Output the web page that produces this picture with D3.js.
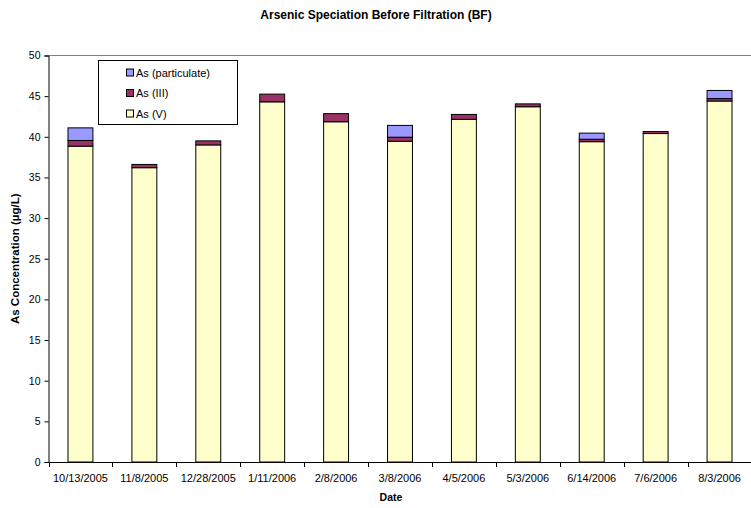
<!DOCTYPE html>
<html><head><meta charset="utf-8">
<script src="https://cdnjs.cloudflare.com/ajax/libs/d3/7.8.5/d3.min.js"></script>
<style>body{margin:0;background:#fff}svg{display:block;font-family:"Liberation Sans",Arial,sans-serif}</style>
</head><body><svg id="c" width="751" height="508"></svg>
<script>
const dates = ["10/13/2005","11/8/2005","12/28/2005","1/11/2006","2/8/2006","3/8/2006","4/5/2006","5/3/2006","6/14/2006","7/6/2006","8/3/2006"];
const asV = [38.85,36.2,39.0,44.3,41.85,39.45,42.15,43.7,39.4,40.4,44.4];
const asIII = [0.7,0.4,0.5,0.95,1.0,0.5,0.6,0.35,0.3,0.25,0.3];
const asPart = [1.55,0,0,0,0,1.45,0,0,0.75,0,1.0];
const seriesNames = ["As (V)","As (III)","As (particulate)"];
const colors = ["#FFFFCC","#993366","#9999FF"];
const yTicks = [0,5,10,15,20,25,30,35,40,45,50];

const svg = d3.select("#c");
const L = 48.5, R = 751.5, T = 55.5, B = 462;
const x = d3.scaleBand().domain(dates).range([L,R]).paddingInner(0.61).paddingOuter(0.305);
const xb = d3.scaleBand().domain(dates).range([L,R]);
const y = d3.scaleLinear().domain([0,50]).range([B,T]);

// plot top border
svg.append("line").attr("x1",L).attr("x2",R).attr("y1",T).attr("y2",T).attr("stroke","#808080").attr("stroke-width",1);

const rows = dates.map((d,i)=>({date:d, v:asV[i], iii:asIII[i], p:asPart[i]}));
const stack = d3.stack().keys(["v","iii","p"])(rows);
stack.forEach((s,k)=>{
  svg.append("g").selectAll("rect").data(s.filter(d=>d[1]-d[0]>0)).join("rect")
    .attr("x",d=>x(d.data.date)).attr("width",x.bandwidth())
    .attr("y",d=>y(d[1])).attr("height",d=>y(d[0])-y(d[1]))
    .attr("fill",colors[k]).attr("stroke","#000").attr("stroke-width",1);
});

// axes
const ya = svg.append("g").attr("transform",`translate(${L},0)`)
  .call(d3.axisLeft(y).tickValues(yTicks).tickSize(4).tickPadding(4));
ya.select(".domain").attr("stroke","#000");
ya.selectAll("text").attr("font-size",10.5).attr("fill","#000").attr("font-family","Liberation Sans, Arial, sans-serif");

svg.append("line").attr("x1",L).attr("x2",R).attr("y1",B+0.5).attr("y2",B+0.5).attr("stroke","#000");
svg.append("g").selectAll("line").data(dates).join("line")
  .attr("x1",d=>Math.round(xb(d))+0.5).attr("x2",d=>Math.round(xb(d))+0.5).attr("y1",B).attr("y2",B+5).attr("stroke","#000");
svg.append("g").selectAll("text").data(dates).join("text")
  .attr("x",d=>xb(d)+xb.bandwidth()/2).attr("y",B+20).attr("text-anchor","middle")
  .attr("font-size",11).text(d=>d);

// titles
svg.append("text").attr("x",376).attr("y",19).attr("text-anchor","middle").attr("font-weight","bold").attr("font-size",12).text("Arsenic Speciation Before Filtration (BF)");
svg.append("text").attr("x",391).attr("y",501).attr("text-anchor","middle").attr("font-weight","bold").attr("font-size",10.5).text("Date");
svg.append("text").attr("transform",`translate(19,${(T+B)/2}) rotate(-90)`).attr("text-anchor","middle").attr("font-weight","bold").attr("font-size",11.5).text("As Concentration (µg/L)");

// legend
const lg = svg.append("g");
lg.append("rect").attr("x",98.5).attr("y",60.5).attr("width",139).attr("height",64).attr("fill","#fff").attr("stroke","#000");
const order = [2,1,0];
order.forEach((k,j)=>{
  const cy = 72.5 + j*20.5;
  lg.append("rect").attr("x",126.5).attr("y",cy-3.5).attr("width",7).attr("height",7).attr("fill",colors[k]).attr("stroke","#000");
  lg.append("text").attr("x",136).attr("y",cy+4).attr("font-size",11).text(seriesNames[k]);
});
</script></body></html>
